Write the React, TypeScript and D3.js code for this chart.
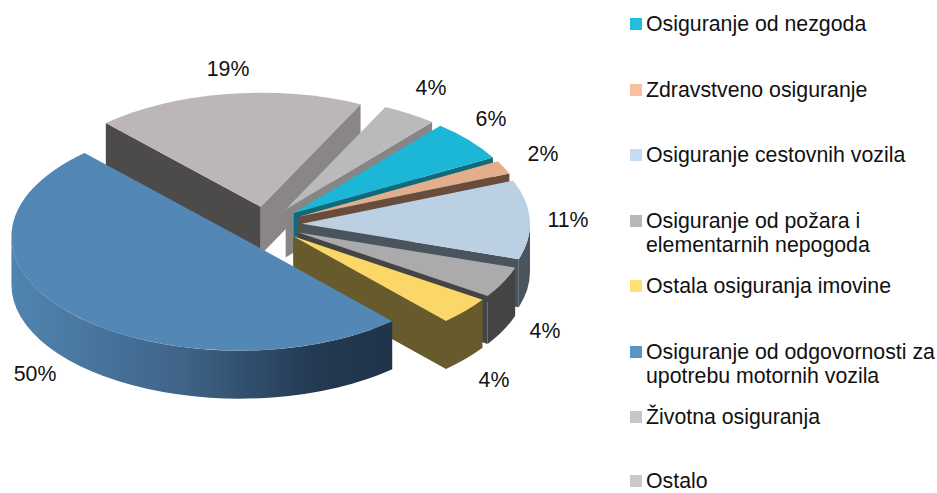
import React from "react";
import * as d3 from "d3";

const categories = [
  "Osiguranje od nezgoda",
  "Zdravstveno osiguranje",
  "Osiguranje cestovnih vozila",
  "Osiguranje od požara i elementarnih nepogoda",
  "Ostala osiguranja imovine",
  "Osiguranje od odgovornosti za upotrebu motornih vozila",
  "Životna osiguranja",
  "Ostalo",
];
const values = [5.8, 1.9, 11.2, 4.4, 3.9, 49.8, 19.1, 3.9];
const percentLabels = ["6%", "2%", "11%", "4%", "4%", "50%", "19%", "4%"];

// styling and layout, kept apart from the data
const topColors = ["#1CB6D6", "#E3AE8C", "#BBD0E2", "#ABABAB", "#FBD76A", "#5387B6", "#BCB6B6", "#BABABA"];
const wallColors = ["#0F6A7C", "#6A4C3C", "#4A545E", "#444444", "#675A2C", "url(#blueWall)", "#8A8685", "#868686"];
const startFaceColors = ["", "", "", "", "", "", "#4D4A4A", ""];
const swatchColors = ["#22BCDD", "#F8BFA0", "#C5DCF0", "#B8B8B8", "#FFE173", "#5B93C6", "#CAC4C4", "#C9C9C9"];
const labelAnchors: [number, number][] = [
  [491, 119], [543, 154], [568, 220], [545, 331], [494, 380], [35, 374], [228, 69], [431, 88],
];
const legendLines = [
  ["Osiguranje od nezgoda"],
  ["Zdravstveno osiguranje"],
  ["Osiguranje cestovnih vozila"],
  ["Osiguranje od požara i", "elementarnih nepogoda"],
  ["Ostala osiguranja imovine"],
  ["Osiguranje od odgovornosti za", "upotrebu motornih vozila"],
  ["Životna osiguranja"],
  ["Ostalo"],
];
const legendBaselines = [31, 97, 162, 227.5, 293, 358.5, 424, 488.4];
const LEGEND_LINE = 24.5;
const FONT_SIZE = 21.3;

const W = 937, H = 493;
const CX = 266, CY = 224.5, RX = 228, TILT = 0.5, DEPTH = 48, EXPLODE = 36;
const RY = RX * TILT;
const TAU = Math.PI * 2;
const START = (40 * Math.PI) / 180;
const FONT = "'Liberation Sans', Arial, sans-serif";

export default function App() {
  const arcs = d3.pie<number>().sort(null).startAngle(START).endAngle(START + TAU)(values);
  const arcGen = d3.arc<d3.PieArcDatum<number>>().innerRadius(0).outerRadius(RX);

  const slices = arcs.map((a, i) => {
    const mid = (a.startAngle + a.endAngle) / 2;
    const ax = CX + EXPLODE * Math.sin(mid);
    const ay = CY - EXPLODE * TILT * Math.cos(mid);
    const pt = (t: number, dy = 0): [number, number] => [ax + RX * Math.sin(t), ay - RY * Math.cos(t) + dy];
    const face = (t: number) => {
      const p = d3.path();
      const q = pt(t);
      p.moveTo(ax, ay);
      p.lineTo(q[0], q[1]);
      p.lineTo(q[0], q[1] + DEPTH);
      p.lineTo(ax, ay + DEPTH);
      p.closePath();
      return p.toString();
    };
    const s = a.startAngle % TAU;
    const e = a.endAngle % TAU;
    const showStart = Math.sin(s) < 0;
    const showEnd = Math.sin(e) > 0;
    // visible part of the rim: the front half of the ellipse
    const lo = Math.max(a.startAngle, Math.PI / 2);
    const hi = Math.min(a.endAngle, (3 * Math.PI) / 2);
    let rim: string | null = null;
    if (hi > lo) {
      const p0 = pt(lo), p1 = pt(hi), p2 = pt(hi, DEPTH), p3 = pt(lo, DEPTH);
      rim = `M${p0[0]},${p0[1]}A${RX},${RY} 0 0 1 ${p1[0]},${p1[1]}L${p2[0]},${p2[1]}A${RX},${RY} 0 0 0 ${p3[0]},${p3[1]}Z`;
    }
    return { a, i, ax, ay, s, e, showStart, showEnd, rim, face };
  });

  // back to front: the chart's own paint order follows the ring from the top right
  const order = [6, 7, 0, 1, 2, 3, 4, 5];

  return (
    <svg
      width={W}
      height={H}
      style={{ position: "absolute", left: 0, top: 0, background: "#fff" }}
      fontFamily={FONT}
    >
      <defs>
        <linearGradient id="blueWall" gradientUnits="userSpaceOnUse" x1={11} x2={391} y1={0} y2={0}>
          <stop offset="0" stopColor="#5085B0" />
          <stop offset="0.45" stopColor="#3F6488" />
          <stop offset="0.8" stopColor="#233A52" />
          <stop offset="1" stopColor="#1F3449" />
        </linearGradient>
      </defs>
      {order.map((k) => {
        const sl = slices[k];
        return (
          <g key={k}>
            {sl.showStart && <path d={sl.face(sl.s)} fill={startFaceColors[k] || wallColors[k]} />}
            {sl.showEnd && <path d={sl.face(sl.e)} fill={wallColors[k]} />}
            {sl.rim && <path d={sl.rim} fill={wallColors[k]} />}
            <path
              transform={`translate(${sl.ax},${sl.ay}) scale(1,${TILT})`}
              d={arcGen(sl.a) as string}
              fill={topColors[k]}
            />
          </g>
        );
      })}
      {percentLabels.map((t, i) => (
        <text key={i} x={labelAnchors[i][0]} y={labelAnchors[i][1]} textAnchor="middle" dominantBaseline="central" fontSize={FONT_SIZE} fill="#111">
          {t}
        </text>
      ))}
      {categories.map((c, i) => (
        <g key={c}>
          <rect x={630} y={Math.round(legendBaselines[i]) - 13} width={12} height={12} fill={swatchColors[i]} />
          {legendLines[i].map((ln, j) => (
            <text key={j} x={646} y={legendBaselines[i] + j * LEGEND_LINE} fontSize={FONT_SIZE} fill="#111">
              {ln}
            </text>
          ))}
        </g>
      ))}
    </svg>
  );
}
